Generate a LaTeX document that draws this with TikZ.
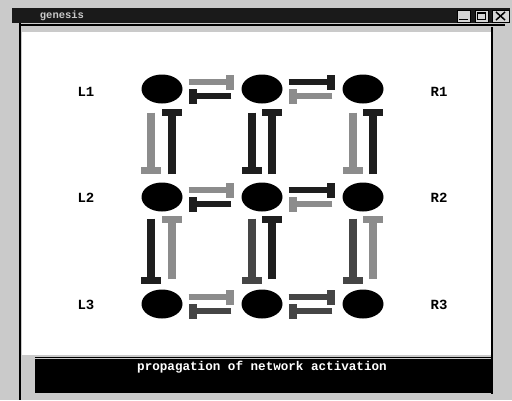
\documentclass[tikz,border=0pt]{standalone}
\usepackage{fontspec}
\newfontfamily\pixfont{Liberation Mono}
\usetikzlibrary{shapes.geometric,arrows.meta}
\definecolor{cdark}{HTML}{1E1E1E}
\definecolor{cmid}{HTML}{454545}
\definecolor{clight}{HTML}{8C8C8C}
\definecolor{winbg}{HTML}{CACACA}
\definecolor{titlebg}{HTML}{1A1A1A}
\tikzset{
  neuron/.style={ellipse, fill=black, minimum width=41pt, minimum height=29pt, inner sep=0pt},
  hbar/.style={line width=5.5pt, -{Rectangle[length=8pt,width=15pt]}},
  vbar/.style={line width=8.5pt, -{Rectangle[length=7pt,width=20pt]}},
  lbl/.style={font=\pixfont\bfseries\fontsize{14}{14}\selectfont, inner sep=0pt},
  btn/.style={fill=winbg!80, draw=black, line width=0.6pt},
}
\begin{document}
\begin{tikzpicture}[x=1pt,y=-1pt]
\useasboundingbox (0,0) rectangle (512,400);
% window frame
\fill[winbg] (0,0) rectangle (512,400);
\fill[titlebg] (12,8) rectangle (510,23);
\node[font=\pixfont\bfseries\fontsize{10.5}{10.5}\selectfont, text=winbg, inner sep=0pt] (title) at (62,15.5) {genesis};
\draw[btn] (457,10) rectangle (470,22);
\draw[black, line width=1.5pt] (459,19.5) -- (468,19.5);
\draw[btn] (475,10) rectangle (488,22);
\draw[black, line width=1pt] (477.5,12.5) rectangle (485.5,19.5);
\draw[black, line width=2pt] (477.5,12.5) -- (485.5,12.5);
\draw[btn] (492,10) rectangle (509,22);
\draw[black, line width=1.5pt] (496,12) -- (505,20) (505,12) -- (496,20);
\draw[black, line width=1.2pt] (20,25) -- (505,25);
\draw[black, line width=1.5pt] (20,23) -- (20,400);
\fill[white] (22,32) rectangle (492,355);
\draw[black, line width=1.5pt] (492,27) -- (492,394);
% status bar
\draw[black, line width=1pt] (35,357) -- (493,357);
\fill[black] (35,359) rectangle (493,393);
\node[font=\pixfont\bfseries\fontsize{12.6}{12.6}\selectfont, text=white, inner sep=0pt] (status) at (262,367) {propagation of network activation};
% neurons
\node[neuron] (n11) at (162,89) {};
\node[neuron] (n12) at (262,89) {};
\node[neuron] (n13) at (363,89) {};
\node[neuron] (n21) at (162,197) {};
\node[neuron] (n22) at (262,197) {};
\node[neuron] (n23) at (363,197) {};
\node[neuron] (n31) at (162,304) {};
\node[neuron] (n32) at (262,304) {};
\node[neuron] (n33) at (363,304) {};
% labels
\node[lbl] (L1) at (86,92) {L1};
\node[lbl] (L2) at (86,198) {L2};
\node[lbl] (L3) at (86,305) {L3};
\node[lbl] (R1) at (439,92) {R1};
\node[lbl] (R2) at (439,198) {R2};
\node[lbl] (R3) at (439,305) {R3};
% horizontal connections: upper (left->right), lower (right->left)
\draw[hbar, clight] ([xshift=6pt,yshift=7pt]n11.east) -- ([xshift=-7pt,yshift=7pt]n12.west);
\draw[hbar, cdark] ([xshift=-10pt,yshift=-7pt]n12.west) -- ([xshift=6pt,yshift=-7pt]n11.east);
\draw[hbar, cdark] ([xshift=6pt,yshift=7pt]n12.east) -- ([xshift=-7pt,yshift=7pt]n13.west);
\draw[hbar, clight] ([xshift=-10pt,yshift=-7pt]n13.west) -- ([xshift=6pt,yshift=-7pt]n12.east);
\draw[hbar, clight] ([xshift=6pt,yshift=7pt]n21.east) -- ([xshift=-7pt,yshift=7pt]n22.west);
\draw[hbar, cdark] ([xshift=-10pt,yshift=-7pt]n22.west) -- ([xshift=6pt,yshift=-7pt]n21.east);
\draw[hbar, cdark] ([xshift=6pt,yshift=7pt]n22.east) -- ([xshift=-7pt,yshift=7pt]n23.west);
\draw[hbar, clight] ([xshift=-10pt,yshift=-7pt]n23.west) -- ([xshift=6pt,yshift=-7pt]n22.east);
\draw[hbar, clight] ([xshift=6pt,yshift=7pt]n31.east) -- ([xshift=-7pt,yshift=7pt]n32.west);
\draw[hbar, cmid] ([xshift=-10pt,yshift=-7pt]n32.west) -- ([xshift=6pt,yshift=-7pt]n31.east);
\draw[hbar, cmid] ([xshift=6pt,yshift=7pt]n32.east) -- ([xshift=-7pt,yshift=7pt]n33.west);
\draw[hbar, cmid] ([xshift=-10pt,yshift=-7pt]n33.west) -- ([xshift=6pt,yshift=-7pt]n32.east);
% vertical connections: left (top->bottom), right (bottom->top)
\draw[vbar, clight] ([xshift=-11pt,yshift=-9pt]n11.south) -- ([xshift=-11pt,yshift=8pt]n21.north);
\draw[vbar, cdark] ([xshift=10pt,yshift=8pt]n21.north) -- ([xshift=10pt,yshift=-5pt]n11.south);
\draw[vbar, cdark] ([xshift=-10pt,yshift=-9pt]n12.south) -- ([xshift=-10pt,yshift=8pt]n22.north);
\draw[vbar, cdark] ([xshift=10pt,yshift=8pt]n22.north) -- ([xshift=10pt,yshift=-5pt]n12.south);
\draw[vbar, clight] ([xshift=-10pt,yshift=-9pt]n13.south) -- ([xshift=-10pt,yshift=8pt]n23.north);
\draw[vbar, cdark] ([xshift=10pt,yshift=8pt]n23.north) -- ([xshift=10pt,yshift=-5pt]n13.south);
\draw[vbar, cdark] ([xshift=-11pt,yshift=-7pt]n21.south) -- ([xshift=-11pt,yshift=5pt]n31.north);
\draw[vbar, clight] ([xshift=10pt,yshift=10pt]n31.north) -- ([xshift=10pt,yshift=-4pt]n21.south);
\draw[vbar, cmid] ([xshift=-10pt,yshift=-7pt]n22.south) -- ([xshift=-10pt,yshift=5pt]n32.north);
\draw[vbar, cdark] ([xshift=10pt,yshift=10pt]n32.north) -- ([xshift=10pt,yshift=-4pt]n22.south);
\draw[vbar, cmid] ([xshift=-10pt,yshift=-7pt]n23.south) -- ([xshift=-10pt,yshift=5pt]n33.north);
\draw[vbar, clight] ([xshift=10pt,yshift=10pt]n33.north) -- ([xshift=10pt,yshift=-4pt]n23.south);
\end{tikzpicture}
\end{document}
